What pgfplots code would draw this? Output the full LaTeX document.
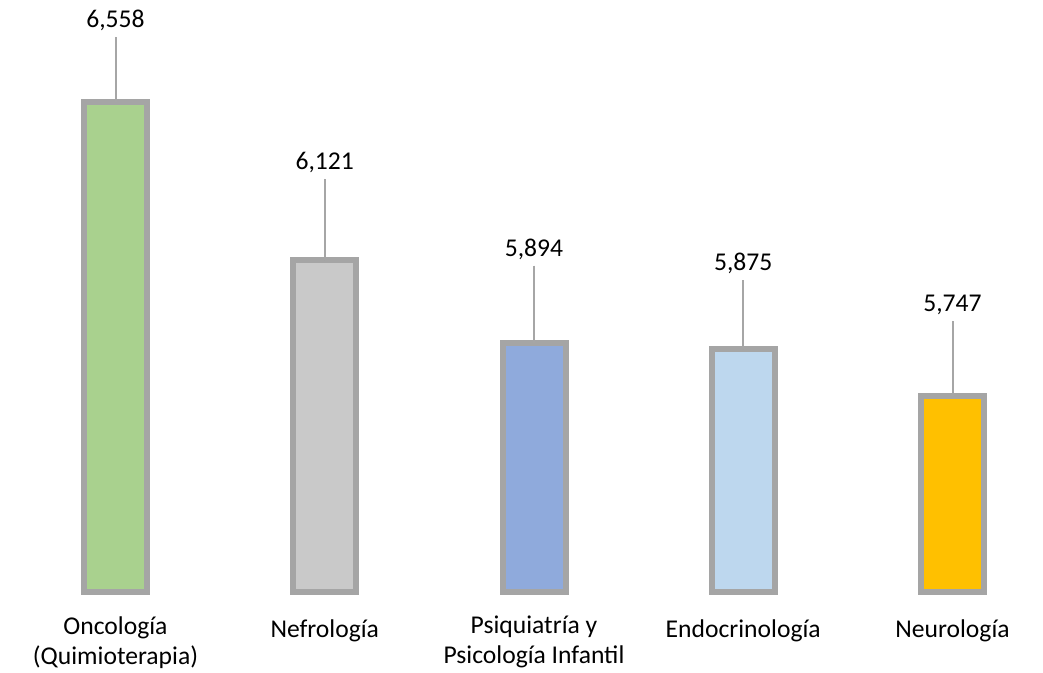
\documentclass[border=0pt]{standalone}
\usepackage{fontspec}
\setmainfont{Carlito}
\usepackage{pgfplots}
\pgfplotsset{compat=1.18}
\definecolor{cOnc}{HTML}{A9D18E}
\definecolor{cNef}{HTML}{C9C9C9}
\definecolor{cPsi}{HTML}{8FAADC}
\definecolor{cEnd}{HTML}{BDD7EE}
\definecolor{cNeu}{HTML}{FFC000}
\definecolor{barline}{HTML}{A5A5A5}
\definecolor{leader}{HTML}{A6A6A6}
\newcommand\lbl{\fontsize{19.2}{22.5}\selectfont}
\pgfplotsset{
  vlab/.style={
    nodes near coords={},
    every node near coord/.append style={anchor=center, inner sep=0pt, minimum size=0pt, outer sep=0pt,
      pin={[pin distance=#1, pin edge={draw=leader, line width=1.5pt}, inner xsep=0pt, inner ysep=7pt, outer sep=0pt, text depth=0pt, font=\lbl, text=black]90:{\pgfmathprintnumber{\pgfplotspointmeta}}}}
  },
  mybar/.style={draw=barline, line width=4.5pt, line join=miter, fill=#1}
}
\begin{document}
\begin{tikzpicture}
\begin{axis}[
  at={(0pt,60.75pt)}, anchor=south west,
  scale only axis, width=782.25pt, height=444pt,
  xmin=-0.552, xmax=4.4325, ymin=5206, ymax=6839,
  clip=false,
  axis line style={draw=none},
  major tick length=0pt,
  ybar, bar width=47.25pt, bar shift=0pt,
  xtick={0,1,2,3,4},
  xticklabels={{Oncología\\(Quimioterapia)},{Nefrología},{Psiquiatría y\\Psicología Infantil},{Endocrinología},{Neurología}},
  ytick=\empty,
  xticklabel style={font=\lbl, align=center, anchor=north, yshift=-18pt, inner sep=0pt, execute at begin node={\rule{0pt}{15.75pt}}},
  /pgf/number format/1000 sep={,},
  /pgf/number format/assume math mode=true,
]
\addplot[mybar=cOnc, vlab=48.75pt] coordinates {(0,6558)};
\addplot[mybar=cNef, vlab=61pt] coordinates {(1,6121)};
\addplot[mybar=cPsi, vlab=57.75pt] coordinates {(2,5894)};
\addplot[mybar=cEnd, vlab=52pt] coordinates {(3,5875)};
\addplot[mybar=cNeu, vlab=56.25pt] coordinates {(4,5747)};
\end{axis}
\pgfresetboundingbox
\path[use as bounding box] (0,0) rectangle (782.25pt,504.75pt);
\end{tikzpicture}
\end{document}
